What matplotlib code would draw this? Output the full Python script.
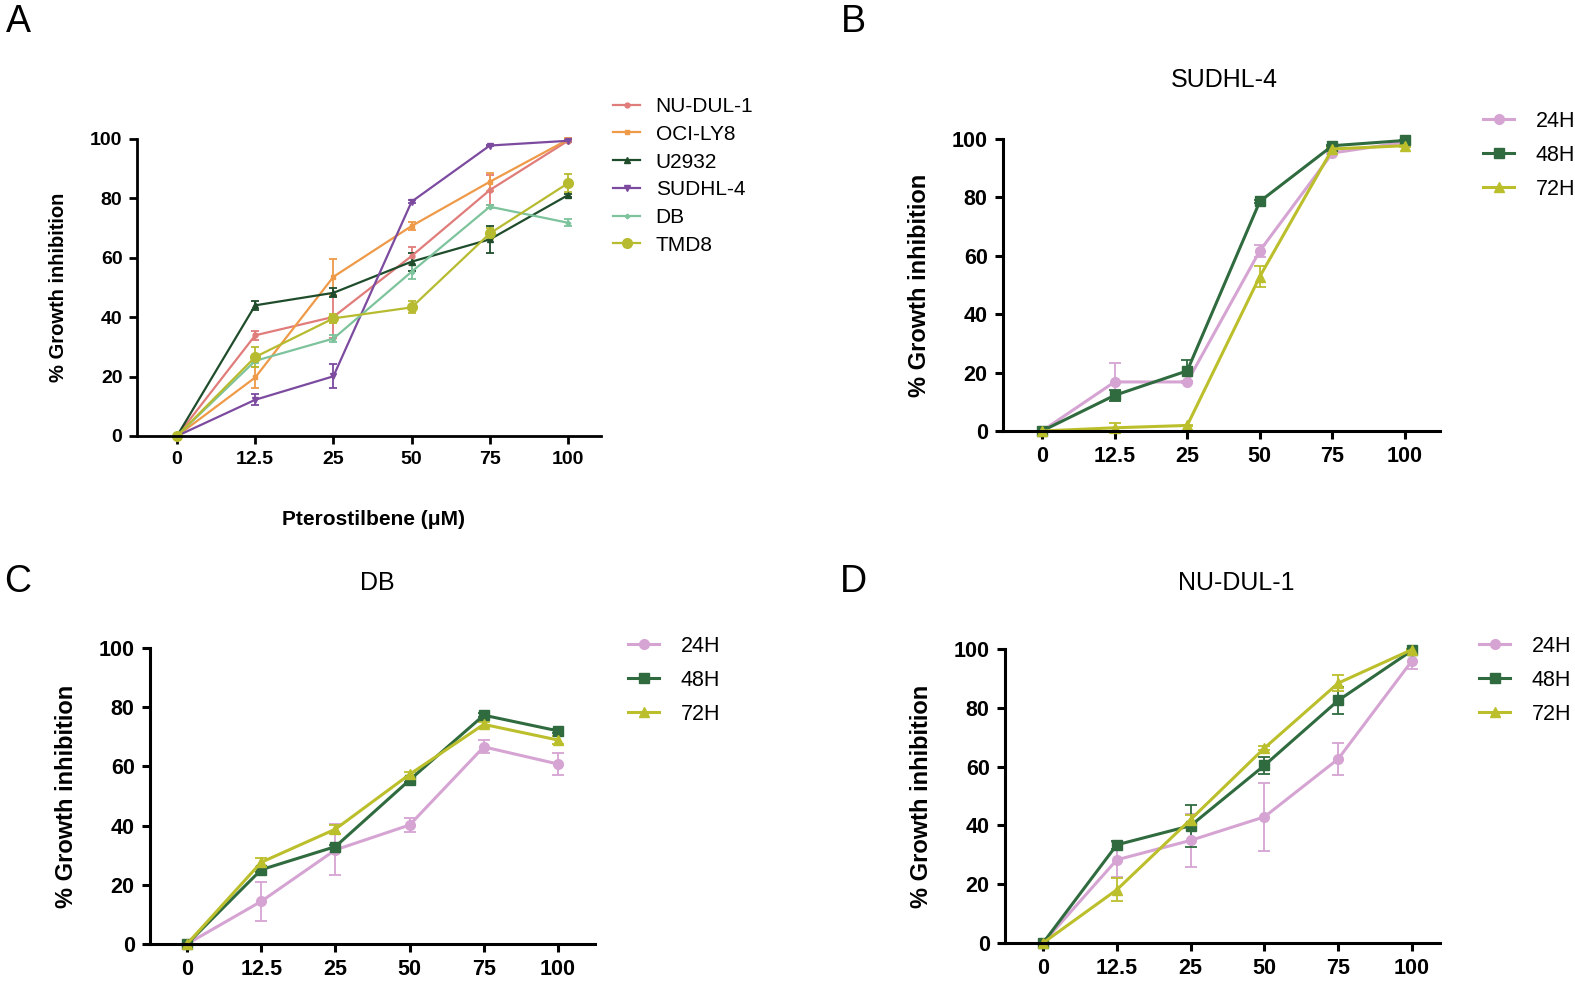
import matplotlib
matplotlib.use("Agg")
import matplotlib.pyplot as plt
import numpy as np

plt.rcParams['font.family'] = ['Liberation Sans', 'DejaVu Sans']

W, H = 1575, 982
doses = ['0', '12.5', '25', '50', '75', '100']

# Panel A: cell lines
lines_A = ['NU-DUL-1', 'OCI-LY8', 'U2932', 'SUDHL-4', 'DB', 'TMD8']
nudul1 = [0, 33.9, 40.1, 60.6, 82.8, 99.4]
nudul1_err = [0, 1.5, 7.0, 3.0, 5.0, 0.5]
ocily8 = [0, 19.7, 53.6, 70.7, 85.6, 99.8]
ocily8_err = [0, 3.5, 6.0, 1.5, 3.0, 0.5]
u2932 = [0, 44.0, 48.2, 58.7, 66.2, 81.1]
u2932_err = [0, 1.5, 1.5, 3.0, 4.5, 0.5]
sudhl4 = [0, 12.2, 20.1, 78.9, 97.8, 99.4]
sudhl4_err = [0, 1.8, 4.0, 0.5, 0.3, 0.3]
db = [0, 25.3, 32.8, 55.3, 77.2, 71.8]
db_err = [0, 0.8, 1.2, 2.5, 0.5, 1.2]
tmd8 = [0, 26.6, 39.6, 43.3, 68.2, 85.1]
tmd8_err = [0, 3.5, 1.5, 2.0, 2.0, 3.0]

# Time-course panels
times = ['24H', '48H', '72H']
sudhl4_24 = [0, 16.8, 16.8, 61.7, 95.2, 98.9]
sudhl4_24_err = [0, 6.5, 0.3, 2.0, 0.5, 0.5]
sudhl4_48 = [0, 12.2, 20.6, 78.6, 97.7, 99.5]
sudhl4_48_err = [0, 2.0, 3.8, 0.5, 0.3, 0.3]
sudhl4_72 = [0, 1.1, 1.9, 52.9, 96.6, 97.7]
sudhl4_72_err = [0, 1.8, 0.3, 3.5, 0.3, 0.5]

db_24 = [0, 14.4, 31.8, 40.2, 66.6, 60.8]
db_24_err = [0, 6.7, 8.6, 2.5, 2.2, 3.8]
db_48 = [0, 25.1, 32.9, 55.4, 77.3, 72.0]
db_48_err = [0, 0.7, 0.7, 0.7, 0.7, 0.7]
db_72 = [0, 27.6, 38.8, 57.3, 74.2, 68.9]
db_72_err = [0, 1.5, 1.5, 0.8, 0.8, 1.5]

nd_24 = [0, 28.3, 34.9, 42.9, 62.6, 96.0]
nd_24_err = [0, 6.0, 9.0, 11.6, 5.3, 2.7]
nd_48 = [0, 33.4, 39.9, 60.4, 82.5, 99.5]
nd_48_err = [0, 1.3, 7.2, 3.0, 4.5, 0.5]
nd_72 = [0, 18.1, 42.0, 66.3, 88.4, 99.8]
nd_72_err = [0, 3.9, 1.5, 0.8, 2.8, 0.3]

colors_A = ['#E07C7A', '#EE9A48', '#1F4D2C', '#7C4B9F', '#7DC39C', '#B7BB30']
markers_A = ['o', 's', '^', 'v', 'P', 'o']
msizes_A = [3.5, 3.5, 4, 4, 3, 7]
colors_T = ['#D6A4D3', '#2F6B3F', '#BCBF2C']
markers_T = ['o', 's', '^']

fig = plt.figure(figsize=(W / 100, H / 100), dpi=100)


def make_ax(left, right, y0, y100, cat0, sp):
    ax = fig.add_axes([left / W, 1 - y0 / H, (right - left) / W, (y0 - y100) / H])
    ax.set_xlim((left - cat0) / sp, (right - cat0) / sp)
    ax.set_ylim(0, 100)
    for s in ['top', 'right']:
        ax.spines[s].set_visible(False)
    ax.set_xticks(range(len(doses)))
    ax.set_xticklabels(doses)
    ax.set_yticks([0, 20, 40, 60, 80, 100])
    return ax


def style_ax(ax, fs, lw, ylab_fs, ylab_dx, axw, tlen=5.5):
    for s in ['left', 'bottom']:
        ax.spines[s].set_linewidth(lw)
    ax.tick_params(axis='both', which='major', direction='out', length=tlen, width=lw,
                   labelsize=fs, pad=5)
    for lab in ax.get_xticklabels() + ax.get_yticklabels():
        lab.set_fontweight('bold')
    ax.set_ylabel('% Growth inhibition', fontsize=ylab_fs, fontweight='bold')
    ax.yaxis.set_label_coords(-ylab_dx / axw, 0.5)


def plot_series(ax, y, e, color, marker, ms, lw, label, capsize):
    x = np.arange(len(doses))
    c = ax.errorbar(x, y, yerr=e, color=color, marker=marker, markersize=ms,
                    linewidth=lw, elinewidth=1.3, capsize=capsize, capthick=1.3,
                    label=label)
    for art in c.get_children():
        art.set_clip_on(False)
    return c


# ---- Panel A ----
axA = make_ax(137, 601, 436, 139, 177, 78.2)
series_A = [(nudul1, nudul1_err), (ocily8, ocily8_err), (u2932, u2932_err),
            (sudhl4, sudhl4_err), (db, db_err), (tmd8, tmd8_err)]
handles_A = []
for (y, e), c, m, ms, lab in zip(series_A, colors_A, markers_A, msizes_A, lines_A):
    cont = plot_series(axA, y, e, c, m, ms, 1.6, lab, 3)
    handles_A.append(cont.lines[0])
style_ax(axA, 14, 2.0, 14.5, 69, 464)
axA.set_xlabel('Pterostilbene (μM)', fontsize=15, fontweight='bold')
axA.xaxis.set_label_coords(0.51, -74 / 297)
axA.legend(handles=handles_A, labels=lines_A, loc='upper left',
           bbox_to_anchor=(613 / W, 1 - 97 / H),
           bbox_transform=fig.transFigure, frameon=False, fontsize=15,
           handlelength=1.3, handletextpad=0.75, labelspacing=0.42, borderpad=0,
           borderaxespad=0)

# ---- Time panels ----
panels = [
    ('SUDHL-4', (1003, 1440, 431, 139, 1042, 72.6),
     [(sudhl4_24, sudhl4_24_err), (sudhl4_48, sudhl4_48_err), (sudhl4_72, sudhl4_72_err)],
     (1224, 80), (1483, 111)),
    ('DB', (150, 595, 944, 648, 187, 74.2),
     [(db_24, db_24_err), (db_48, db_48_err), (db_72, db_72_err)],
     (377, 583), (628, 636)),
    ('NU-DUL-1', (1005, 1440, 943, 649, 1043, 73.8),
     [(nd_24, nd_24_err), (nd_48, nd_48_err), (nd_72, nd_72_err)],
     (1236, 583), (1479, 636)),
]

for title, (l, r, y0, y100, c0, sp), series, tpos, lpos in panels:
    ax = make_ax(l, r, y0, y100, c0, sp)
    hs = []
    for (y, e), c, m, lab in zip(series, colors_T, markers_T, times):
        cont = plot_series(ax, y, e, c, m, 7, 2.2, lab, 4)
        hs.append(cont.lines[0])
    style_ax(ax, 15.5, 2.2, 17, 72, r - l, tlen=6)
    fig.text(tpos[0] / W, 1 - tpos[1] / H, title, fontsize=18, ha='center', va='center')
    ax.legend(handles=hs, labels=times, loc='upper left',
              bbox_to_anchor=(lpos[0] / W, 1 - lpos[1] / H),
              bbox_transform=fig.transFigure, frameon=False, fontsize=15.5,
              handlelength=1.45, handletextpad=1.0, labelspacing=0.6, borderpad=0,
              borderaxespad=0)

# Panel letters
for letter, (px, py) in zip('ABCD', [(18, 22), (853, 22), (18, 582), (853, 582)]):
    fig.text(px / W, 1 - py / H, letter, fontsize=27, ha='center', va='center')

fig.savefig('out.png', dpi=100)
